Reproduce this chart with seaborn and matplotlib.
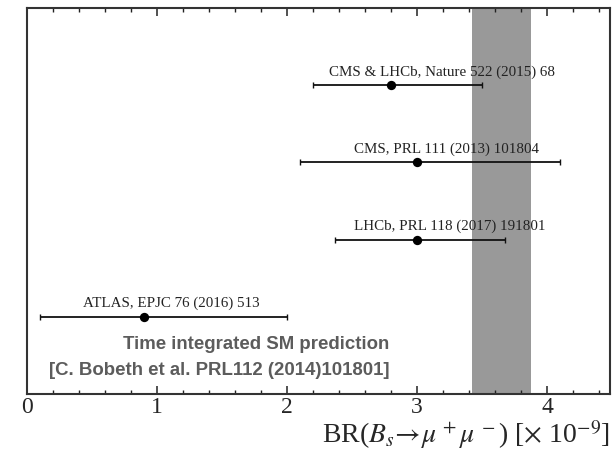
import numpy as np
import pandas as pd
import matplotlib
matplotlib.use("Agg")
import matplotlib.pyplot as plt
from matplotlib.ticker import MultipleLocator
import seaborn as sns

# ---- data ----
experiments = ["CMS & LHCb, Nature 522 (2015) 68",
               "CMS, PRL 111 (2013) 101804",
               "LHCb, PRL 118 (2017) 191801",
               "ATLAS, EPJC 76 (2016) 513"]
br_values = [2.8, 3.0, 3.0, 0.9]
err_low = [0.6, 0.9, 0.63, 0.8]
err_high = [0.7, 1.1, 0.68, 1.1]
sm_central = 3.65
sm_error = 0.23
sm_text = ["Time integrated SM prediction",
           "[C. Bobeth et al. PRL112 (2014)101801]"]
tick_values = [0, 1, 2, 3, 4]
tick_labels = ["0", "1", "2", "3", "4"]

# layout (not data)
row_pos = [4, 3, 2, 1]
label_x = [3.19, 3.23, 3.25, 1.11]

df = pd.DataFrame({"exp": experiments, "br": br_values, "row": row_pos,
                   "lo": err_low, "hi": err_high})

sns.set_theme(style="ticks")
plt.rcParams["font.family"] = ["Liberation Serif", "DejaVu Serif"]
plt.rcParams["mathtext.fontset"] = "stix"

fig = plt.figure(figsize=(6.12, 4.69), dpi=100)
ax = fig.add_axes([27/612, 1 - 394/469, 583/612, 386/469])

ax.axvspan(sm_central - sm_error, sm_central + sm_error, color="#999999",
           lw=0, zorder=0)

ax.errorbar(df["br"], df["row"], xerr=[df["lo"], df["hi"]], fmt="none",
            ecolor="#111111", elinewidth=1.3, capsize=2.5, capthick=1.0,
            zorder=2)
sns.scatterplot(data=df, x="br", y="row", color="black", s=45,
                edgecolor="black", linewidth=0, zorder=3, ax=ax, legend=False)

for lab, lx, ry in zip(df["exp"], label_x, df["row"]):
    ax.annotate(lab, xy=(lx, ry), xytext=(0, 9.5), textcoords="offset points",
                ha="center", va="center", fontsize=10.8, color="#222222",
                family=["Liberation Serif"])

ax.text(2.79, 0.635, sm_text[0], ha="right", va="center", fontsize=13.4,
        fontweight="bold", color="#5c5c5c", family=["Liberation Sans"])
ax.text(2.79, 0.31, sm_text[1], ha="right", va="center", fontsize=13.4,
        fontweight="bold", color="#5c5c5c", family=["Liberation Sans"])

ax.set_xlim(0, 4.485)
ax.set_ylim(0, 5)
ax.set_xticks(tick_values)
ax.set_xticklabels(tick_labels, fontsize=17)
ax.xaxis.set_minor_locator(MultipleLocator(0.2))
ax.set_yticks([])
ax.tick_params(axis="x", which="major", direction="in", top=True, bottom=True,
               length=6, width=1.1, color="#222222", pad=2)
ax.tick_params(axis="x", which="minor", direction="in", top=True, bottom=True,
               length=3, width=1.0, color="#222222")
for side in ["left", "right", "top", "bottom"]:
    ax.spines[side].set_linewidth(1.5)
    ax.spines[side].set_color("#333333")

ax.set_xlabel(r"BR($B_s\!\rightarrow\!\mu^{\,+}\mu^{\,-}$) [$\times$ 10$^{-9}$]",
              loc="right", fontsize=20, labelpad=0)
ax.set_ylabel("")

fig.savefig("out.png", dpi=100)
